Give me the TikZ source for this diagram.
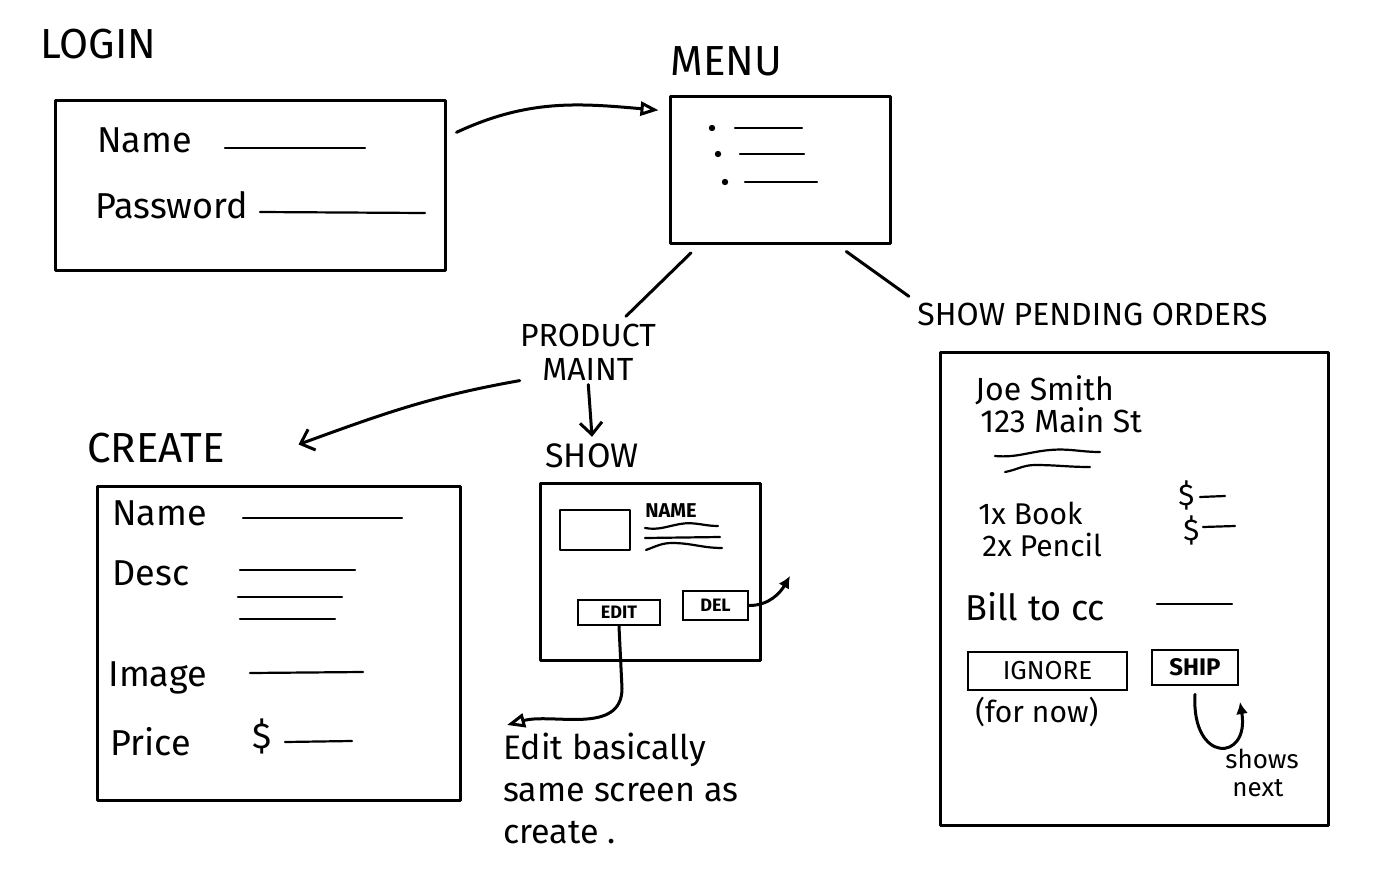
\documentclass[tikz,border=0pt]{standalone}
\usepackage{fontspec}
\setmainfont{Fira Sans}
\usetikzlibrary{arrows.meta}

\begin{document}
\begin{tikzpicture}[x=0.5pt, y=-0.5pt,
  sketch/.style={line width=1.5pt, line cap=round, line join=round},
  screen/.style={draw, sketch, inner sep=0pt},
  button/.style={draw, line width=1.3pt, inner sep=0pt, font=\fontsize{9}{10}\selectfont\bfseries},
  field/.style={line width=1.1pt, line cap=round},
  title/.style={inner sep=0pt, anchor=base west, font=\fontsize{21}{23}\selectfont},
  txt/.style={inner sep=0pt, anchor=base west, font=\fontsize{18}{21}\selectfont},
  small/.style={inner sep=0pt, anchor=base west, font=\fontsize{15}{17}\selectfont},
  flow/.style={sketch, -{Straight Barb[length=6pt, width=11pt]}},
  flowopen/.style={sketch, -{Triangle[open, length=9pt, width=7pt]}},
  flowfill/.style={sketch, -{Latex[length=6pt, width=6pt]}}]

  \useasboundingbox (0,0) rectangle (1382,868);

  %% login screen
  \node[title] (loginl) at (40,58) {LOGIN};
  \node[screen, minimum width=195pt, minimum height=85pt] (login) at (250,185) {};
  \node[txt] (lname) at (97,152) {Name};
  \node[txt] (lpass) at (95,218) {Password};
  \draw[field] (225,148) -- (365,148);
  \draw[field] (260,212) -- (425,213);

  %% menu screen
  \node[title] (menul) at (670,75) {MENU};
  \node[screen, minimum width=110pt, minimum height=73.5pt] (menu) at (780,169.5) {};
  \foreach \d/\y/\s/\e in {712/128/735/802, 718/154/740/804, 725/182/745/817}
  {
    \fill (\d,\y) circle (1.6pt);
    \draw[field] (\s,\y) -- (\e,\y);
  }

  \draw[flowopen] ([xshift=5pt]login.15) to[out=25, in=175] ([xshift=-5pt]menu.152); %% login->menu

  %% branches
  \node[title, anchor=center, align=center, font=\fontsize{16}{17}\selectfont] (pm) at (588,352) {PRODUCT\\MAINT};
  \node[title, font=\fontsize{16}{17}\selectfont] (spo) at (917,325) {SHOW PENDING ORDERS};
  \draw[sketch, shorten <=6pt, shorten >=5pt] (menu.223) -- (pm.43);
  \draw[sketch, shorten <=6pt, shorten >=5pt] (menu.-53) -- (spo.north west);

  %% create screen
  \node[title] (createl) at (87,462) {CREATE};
  \node[screen, minimum width=181.5pt, minimum height=157pt] (create) at (278.5,643) {};
  \node[txt] (cname) at (112,525) {Name};
  \node[txt] (cdesc) at (112,585) {Desc};
  \node[txt] (cimage) at (108,686) {Image};
  \node[txt] (cprice) at (110,755) {Price};
  \node[txt] (cdollar) at (252,748) {\$};
  \draw[field] (243,518) -- (402,518);
  \draw[field] (240,570) -- (355,570);
  \draw[field] (238,597) -- (342,597);
  \draw[field] (240,619) -- (335,619);
  \draw[field] (250,673) -- (363,672);
  \draw[field] (285,742) -- (352,741);

  \draw[flow] (pm.south west) to[out=190, in=20] ([shift={(10pt,20pt)}]create.north); %% maint->create

  %% show screen
  \node[title, font=\fontsize{17}{19}\selectfont] (showl) at (545,467) {SHOW};
  \draw[flow, shorten <=2pt] (pm.south) -- ([yshift=3pt]showl.north); %% maint->show
  \node[screen, minimum width=110pt, minimum height=88.5pt] (show) at (650,571.5) {};
  \node[screen, line width=1.3pt, minimum width=35pt, minimum height=20pt] (img) at (595,530) {};
  \node[inner sep=0pt, anchor=base west, font=\fontsize{10}{11}\selectfont\bfseries] (sname) at (645,517) {NAME};
  \draw[field] (645,528) to[out=-10, in=190] (680,524) to[out=10, in=180] (718,526);
  \draw[field] (645,538) -- (720,537);
  \draw[field] (646,550) to[out=20, in=180] (672,543) to[out=0, in=180] (722,548);
  \node[button, minimum width=41pt, minimum height=12.5pt] (edit) at (619,612.5) {EDIT};
  \node[button, minimum width=32.5pt, minimum height=14.5pt] (del) at (715.5,605.5) {DEL};
  \coordinate (delend) at (790,576);
  \draw[flowfill] (del.east) to[out=0, in=240] (delend); %% del

  \node[small, align=left, anchor=north west, font=\fontsize{17}{21}\selectfont] (note) at (503,733)
    {Edit basically\\same screen as\\create .};
  \draw[flowopen] (edit.south) -- ++(3,62) to[out=-90, in=15] ([shift={(2pt,4pt)}]note.north west); %% edit->note

  %% pending orders screen
  \node[screen, minimum width=194pt, minimum height=236.5pt] (orders) at (1134,588.5) {};
  \node[small, font=\fontsize{16}{18}\selectfont] (cust) at (975,400) {Joe Smith};
  \node[small, font=\fontsize{16}{18}\selectfont] (addr) at (980,432) {123 Main St};
  \draw[field] (995,456) to[out=-5, in=185] (1050,450) to[out=5, in=180] (1100,452);
  \draw[field] (1005,472) to[out=10, in=180] (1035,465) to[out=0, in=180] (1090,467);
  \node[small] (item1) at (978,524) {1x Book};
  \node[small] (item2) at (982,556) {2x Pencil};
  \node[small] (cost1) at (1178,505) {\$};
  \node[small] (cost2) at (1183,540) {\$};
  \draw[field] (1200,497) -- (1225,496);
  \draw[field] (1203,527) -- (1235,526);
  \node[txt] (bill) at (965,620) {Bill to cc};
  \draw[field] (1157,604) -- (1232,604);
  \node[button, font=\fontsize{13}{14}\selectfont, minimum width=79.5pt, minimum height=19pt] (ignore) at (1047.5,671) {IGNORE};
  \node[small] (fornow) at (975,722) {(for now)};
  \node[button, font=\fontsize{12}{13}\selectfont\bfseries, minimum width=43pt, minimum height=17.5pt] (ship) at (1195,667.5) {SHIP};
  \coordinate (shipend) at (1240,702);
  \draw[flowfill] ([yshift=-4pt]ship.south) .. controls +(-4,70) and +(10,60) .. (shipend); %% ship
  \node[small, font=\fontsize{13}{15}\selectfont] (shows) at (1225,768) {shows};
  \node[small, font=\fontsize{13}{15}\selectfont] (next) at (1232,796) {next};
\end{tikzpicture}
\end{document}
